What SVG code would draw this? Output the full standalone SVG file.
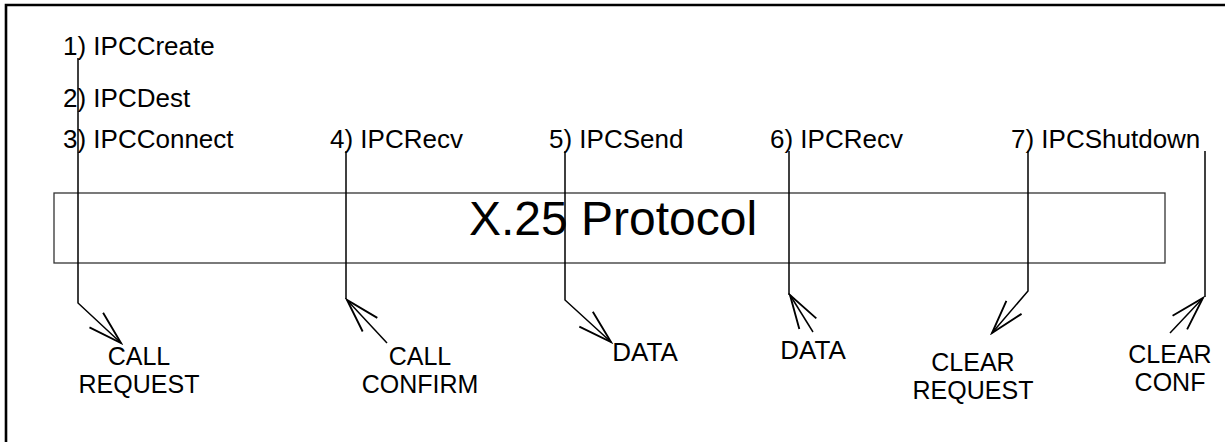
<svg xmlns="http://www.w3.org/2000/svg" width="1225" height="442" viewBox="0 0 1225 442">
  <style>
    .lbl { font-family: "Liberation Sans", Arial, Helvetica, sans-serif; font-size: 26px; fill: #000; }
    .two { font-size: 25px; }
    .mid { text-anchor: middle; }
    .big { font-family: "Liberation Sans", Arial, Helvetica, sans-serif; font-size: 48px; fill: #000; }
    .wire { fill: none; stroke: #000; stroke-width: 1.5; }
    .frame { fill: none; stroke: #000; stroke-width: 2.6; }
  </style>
  <defs>
    <marker id="vee" markerUnits="userSpaceOnUse" markerWidth="40" markerHeight="40"
            refX="0" refY="0" viewBox="-30 -15 32 30" orient="auto">
      <path d="M -27 -8 L 0 0 L -27 8" fill="none" stroke="#000" stroke-width="1.5"/>
    </marker>
  </defs>

  <rect width="1225" height="442" fill="#fff"/>

  <!-- outer frame (top and left edges) -->
  <path class="frame" d="M 6 442 L 6 5 L 1225 5"/>

  <!-- protocol layer -->
  <g id="x25-protocol">
    <rect x="54" y="193" width="1111" height="70" fill="none" stroke="#333" stroke-width="1.3"/>
    <text class="big" x="469" y="235">X.25 Protocol</text>
  </g>

  <!-- IPC calls -->
  <g id="ipc-create"><text class="lbl" x="63" y="55">1) IPCCreate</text></g>
  <g id="ipc-dest"><text class="lbl" x="63" y="107">2) IPCDest</text></g>
  <g id="ipc-connect"><text class="lbl" x="63" y="148">3) IPCConnect</text></g>
  <g id="ipc-recv-1"><text class="lbl" x="330" y="148">4) IPCRecv</text></g>
  <g id="ipc-send"><text class="lbl" x="549" y="148">5) IPCSend</text></g>
  <g id="ipc-recv-2"><text class="lbl" x="770" y="148">6) IPCRecv</text></g>
  <g id="ipc-shutdown"><text class="lbl" x="1011" y="148">7) IPCShutdown</text></g>

  <!-- packets on the wire -->
  <g id="call-request">
    <text class="lbl two mid" x="139" y="365">CALL<tspan x="139" dy="28">REQUEST</tspan></text>
  </g>
  <g id="call-confirm">
    <text class="lbl two mid" x="420" y="365">CALL<tspan x="420" dy="28">CONFIRM</tspan></text>
  </g>
  <g id="data-out">
    <text class="lbl mid" x="645" y="361">DATA</text>
  </g>
  <g id="data-in">
    <text class="lbl mid" x="813" y="359">DATA</text>
  </g>
  <g id="clear-request">
    <text class="lbl two mid" x="973" y="371">CLEAR<tspan x="973" dy="28">REQUEST</tspan></text>
  </g>
  <g id="clear-conf">
    <text class="lbl two mid" x="1170" y="363">CLEAR<tspan x="1170" dy="28">CONF</tspan></text>
  </g>

  <!-- connectors -->
  <g id="connectors">
    <polyline class="wire" points="78,58 78,303 121,343" marker-end="url(#vee)"/>
    <line class="wire" x1="346" y1="151" x2="346" y2="299"/>
    <line class="wire" x1="387" y1="343" x2="347" y2="300" marker-end="url(#vee)"/>
    <polyline class="wire" points="565,151 565,300 611,342" marker-end="url(#vee)"/>
    <line class="wire" x1="789" y1="151" x2="789" y2="295"/>
    <line class="wire" x1="813" y1="332" x2="790" y2="295" marker-end="url(#vee)"/>
    <polyline class="wire" points="1028,151 1028,291 992,333" marker-end="url(#vee)"/>
    <line class="wire" x1="1205" y1="151" x2="1205" y2="297"/>
    <line class="wire" x1="1170" y1="333" x2="1203" y2="298" marker-end="url(#vee)"/>
  </g>
</svg>
